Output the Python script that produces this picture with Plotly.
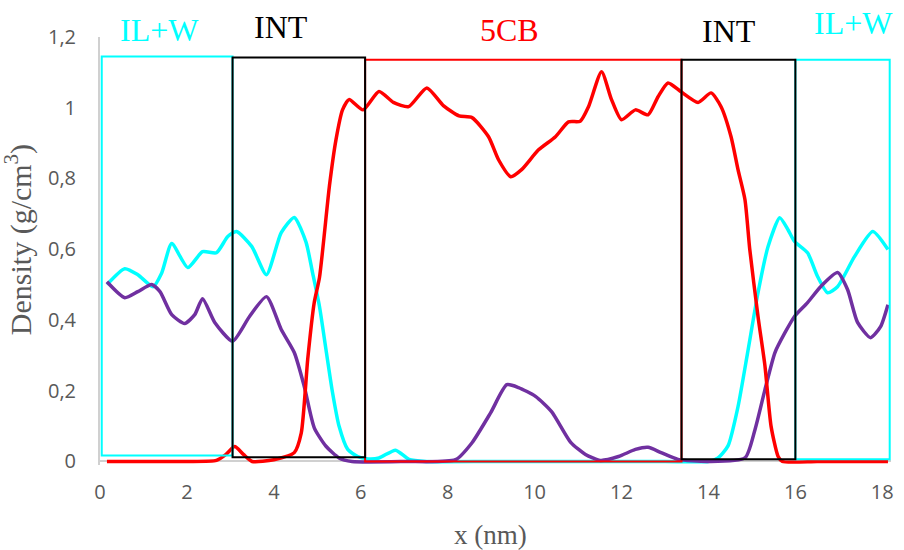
import plotly.graph_objects as go

# Density profiles across the simulation box (x in nm, density in g/cm^3)
x_5cb = [0.16, 1.0, 2.0, 2.68, 2.9, 3.1, 3.3, 3.5, 4.0, 4.47, 4.63, 4.78, 4.93, 5.05, 5.28,
         5.43, 5.58, 5.73, 6.05, 6.42, 6.75, 7.1, 7.52, 7.9, 8.26, 8.56, 8.94, 9.17, 9.45,
         9.7, 10.09, 10.48, 10.78, 11.05, 11.24, 11.54, 11.77, 12.0, 12.32, 12.61, 12.84,
         13.07, 13.37, 13.76, 14.06, 14.29, 14.52, 14.68, 14.84, 14.95, 15.14, 15.3, 15.44,
         15.6, 15.7, 16.5, 17.5, 18.13]
y_5cb = [0.0, 0.0, 0.0, 0.003, 0.02, 0.042, 0.02, 0.0, 0.005, 0.025, 0.08, 0.29, 0.45, 0.52,
         0.78, 0.91, 0.994, 1.023, 0.994, 1.046, 1.015, 1.003, 1.056, 1.006, 0.977, 0.972,
         0.918, 0.853, 0.805, 0.825, 0.881, 0.918, 0.96, 0.962, 1.003, 1.102, 1.023, 0.966,
         0.994, 0.98, 1.031, 1.07, 1.045, 1.015, 1.042, 1.003, 0.918, 0.825, 0.74, 0.6,
         0.41, 0.27, 0.1, 0.015, 0.0, 0.0, 0.0, 0.0]

x_ilw = [0.16, 0.57, 0.87, 1.22, 1.42, 1.65, 2.02, 2.36, 2.68, 2.94, 3.14, 3.49, 3.83, 4.17,
         4.47, 4.74, 4.89, 5.05, 5.2, 5.35, 5.5, 5.7, 5.93, 6.12, 6.42, 6.8, 7.11, 7.5, 9.0,
         11.0, 13.0, 14.0, 14.22, 14.45, 14.68, 14.9, 15.14, 15.37, 15.64, 15.83, 15.98,
         16.28, 16.51, 16.74, 16.97, 17.36, 17.78, 18.13]
y_ilw = [0.5, 0.545, 0.528, 0.494, 0.533, 0.616, 0.548, 0.593, 0.59, 0.636, 0.65, 0.608, 0.528,
         0.647, 0.69, 0.62, 0.534, 0.438, 0.316, 0.195, 0.1, 0.034, 0.014, 0.008, 0.01, 0.032,
         0.006, 0.0, 0.0, 0.0, 0.0, 0.0, 0.01, 0.044, 0.155, 0.307, 0.477, 0.607, 0.689,
         0.655, 0.622, 0.59, 0.523, 0.477, 0.494, 0.579, 0.65, 0.599]

x_il = [0.16, 0.57, 0.87, 1.19, 1.38, 1.65, 1.95, 2.18, 2.36, 2.64, 3.05, 3.44, 3.83, 4.17,
        4.47, 4.7, 4.93, 5.2, 5.5, 5.8, 7.0, 8.18, 8.56, 8.99, 9.36, 9.63, 10.02, 10.39,
        10.83, 11.17, 11.51, 11.93, 12.32, 12.61, 12.91, 13.3, 14.0, 14.84, 15.07, 15.3,
        15.53, 15.76, 15.98, 16.28, 16.58, 16.97, 17.2, 17.43, 17.73, 17.96, 18.13]
y_il = [0.508, 0.463, 0.48, 0.5, 0.48, 0.415, 0.39, 0.415, 0.46, 0.393, 0.34, 0.41, 0.466,
        0.373, 0.308, 0.212, 0.095, 0.043, 0.01, 0.0, 0.0, 0.005, 0.053, 0.138, 0.217, 0.209,
        0.184, 0.141, 0.054, 0.02, 0.003, 0.014, 0.034, 0.04, 0.025, 0.006, 0.0, 0.01, 0.09,
        0.203, 0.308, 0.364, 0.41, 0.449, 0.494, 0.534, 0.486, 0.393, 0.35, 0.381, 0.443]

# Regions of the box: name, start (nm), end (nm)
region_names = ["IL+W", "INT", "5CB", "INT", "IL+W"]
region_start = [0.04, 3.05, 6.1, 13.38, 16.0]
region_end = [3.05, 6.1, 13.38, 16.0, 18.17]

x_ticks = [0, 2, 4, 6, 8, 10, 12, 14, 16, 18]
y_ticks = [0, 0.2, 0.4, 0.6, 0.8, 1.0, 1.2]
y_tick_text = ["0", "0,2", "0,4", "0,6", "0,8", "1", "1,2"]

CYAN = "#00FFFF"
RED = "#FF0000"
PURPLE = "#7030A0"
GREY_TXT = "#595959"

fig = go.Figure()
for xs, ys, col in [(x_ilw, y_ilw, CYAN), (x_il, y_il, PURPLE), (x_5cb, y_5cb, RED)]:
    fig.add_trace(go.Scatter(x=xs, y=ys, mode="lines",
                             line=dict(color=col, width=3.5, shape="spline", smoothing=0.6),
                             showlegend=False, hoverinfo="skip"))

region_colors = {"IL+W": CYAN, "INT": "#000000", "5CB": RED}
region_tops = [1.145, 1.142, 1.136, 1.136, 1.136]
region_bottoms = [0.017, 0.012, 0.0, 0.006, 0.006]
label_x = [1.38, 4.17, 9.43, 14.47, 17.34]
label_y = [1.016, 1.023, 1.016, 1.014, 1.033]   # paper units, above the plot area

# draw coloured boxes first, black interface boxes on top
order = [0, 4, 2, 1, 3]
for i in order:
    fig.add_shape(type="rect", xref="x", yref="y",
                  x0=region_start[i], x1=region_end[i],
                  y0=region_bottoms[i], y1=region_tops[i],
                  line=dict(color=region_colors[region_names[i]], width=2),
                  fillcolor="rgba(0,0,0,0)", layer="above")

for i, name in enumerate(region_names):
    fig.add_annotation(x=label_x[i], y=label_y[i], xref="x", yref="paper", text=name,
                       showarrow=False, xanchor="center", yanchor="middle",
                       font=dict(family="Liberation Serif", size=32,
                                 color=region_colors[name]))

fig.add_annotation(x=0.494, y=-0.163, xref="paper", yref="paper", text="x (nm)",
                   showarrow=False, xanchor="center", yanchor="middle",
                   font=dict(family="Liberation Serif", size=27, color=GREY_TXT))
fig.add_annotation(x=-0.102, y=0.526, xref="paper", yref="paper",
                   text="Density (g/cm<sup>3</sup>)", textangle=-90,
                   showarrow=False, xanchor="center", yanchor="middle",
                   font=dict(family="Liberation Serif", size=30, color=GREY_TXT))

fig.update_layout(
    width=904, height=550,
    margin=dict(l=100, r=10, t=37, b=85),
    paper_bgcolor="white", plot_bgcolor="white",
    xaxis=dict(range=[0, 18.2], tickvals=x_ticks, showgrid=False, zeroline=False,
               showline=False, ticks="outside", ticklen=9,
               tickcolor="rgba(0,0,0,0)",
               tickfont=dict(family="Open Sans", size=20, color=GREY_TXT)),
    yaxis=dict(range=[-0.01, 1.2], tickvals=y_ticks, ticktext=y_tick_text,
               showgrid=False, zeroline=True, zerolinecolor="#D0D0D0", zerolinewidth=2,
               showline=True, linecolor="#D0D0D0", linewidth=2,
               ticks="outside", ticklen=18, tickcolor="rgba(0,0,0,0)",
               tickfont=dict(family="Open Sans", size=20, color=GREY_TXT)),
)

fig.write_html("out.html")
